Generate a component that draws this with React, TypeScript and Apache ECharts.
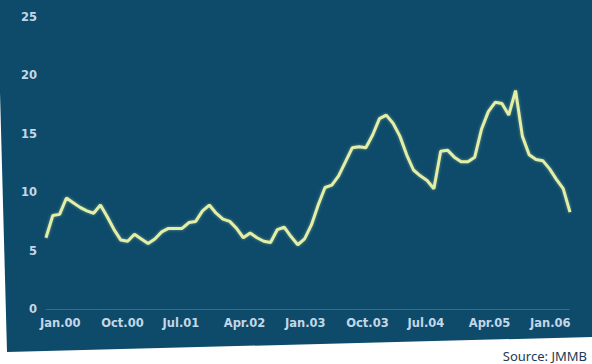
import React, { useEffect, useRef } from "react";
import * as echarts from "echarts";

const monthNames = ["Jan", "Feb", "Mar", "Apr", "May", "Jun", "Jul", "Aug", "Sep", "Oct", "Nov", "Dec"];
const startYear = 2000;
const monthCount = 78; // Jan.00 .. Jun.06

const categories: string[] = [];
for (let i = 0; i < monthCount; i++) {
  const y = startYear + Math.floor(i / 12);
  categories.push(`${monthNames[i % 12]}.${String(y % 100).padStart(2, "0")}`);
}

const tickLabels = ["Jan.00", "Oct.00", "Jul.01", "Apr.02", "Jan.03", "Oct.03", "Jul.04", "Apr.05", "Jan.06"];

const rateValues = [
  6.1, 8.0, 8.1, 9.5, 9.1, 8.7, 8.4, 8.2, 8.9, 7.9, 6.8, 5.9,
  5.8, 6.4, 6.0, 5.6, 6.0, 6.6, 6.9, 6.9, 6.9, 7.4, 7.5, 8.4,
  8.9, 8.2, 7.7, 7.5, 6.9, 6.1, 6.5, 6.1, 5.8, 5.7, 6.8, 7.0,
  6.2, 5.5, 6.0, 7.2, 8.9, 10.4, 10.6, 11.4, 12.6, 13.8, 13.9, 13.8,
  14.9, 16.3, 16.6, 15.9, 14.8, 13.2, 11.9, 11.4, 11.0, 10.3, 13.5, 13.6,
  13.0, 12.6, 12.6, 13.0, 15.4, 16.9, 17.7, 17.6, 16.6, 18.7, 14.8, 13.2,
  12.8, 12.7, 12.0, 11.1, 10.3, 8.3,
];

const yTicks = [0, 5, 10, 15, 20, 25];
const sourceText = "Source: JMMB";

export default function App() {
  const ref = useRef<HTMLDivElement>(null);
  useEffect(() => {
    if (!ref.current) return;
    const chart = echarts.init(ref.current, null, { renderer: "svg" });
    const labelColor = "#c3d7e6";
    chart.setOption({
      animation: false,
      backgroundColor: "#ffffff",
      graphic: [
        {
          type: "polygon",
          z: -10,
          silent: true,
          shape: {
            points: [
              [0, 0],
              [592, 0],
              [592, 337],
              [7, 352],
              [0, 92],
            ],
          },
          style: { fill: "#0e4b6b" },
        },
        {
          type: "text",
          right: 5,
          bottom: 2,
          style: {
            text: sourceText,
            fill: "#1c3a55",
            font: "13px 'Noto Sans', sans-serif",
          },
        },
      ],
      grid: { left: 46, right: 22, top: 17, bottom: 55, containLabel: false },
      xAxis: {
        type: "category",
        boundaryGap: false,
        data: categories,
        axisLine: { show: true, lineStyle: { color: "#46708e", type: "dotted", width: 1 } },
        axisTick: { show: false },
        splitLine: { show: false },
        axisLabel: {
          interval: (i: number, v: string) => tickLabels.includes(v),
          align: "left",
          margin: 8,
          padding: [0, 0, 0, -6],
          color: labelColor,
          fontSize: 11.5,
          fontWeight: "bold",
          fontFamily: "'DejaVu Sans', sans-serif",
        },
      },
      yAxis: {
        type: "value",
        min: yTicks[0],
        max: yTicks[yTicks.length - 1],
        interval: 5,
        axisLine: { show: false },
        axisTick: { show: false },
        splitLine: { show: false },
        axisLabel: {
          margin: 9,
          color: labelColor,
          fontSize: 11.5,
          fontWeight: "bold",
          fontFamily: "'DejaVu Sans', sans-serif",
        },
      },
      series: [
        {
          type: "line",
          data: rateValues,
          showSymbol: false,
          smooth: false,
          lineStyle: {
            color: "#e3eea6",
            width: 3,
            shadowColor: "rgba(220,240,160,0.45)",
            shadowBlur: 3,
          },
        },
      ],
    });
    return () => chart.dispose();
  }, []);
  return (
    <div
      ref={ref}
      style={{ position: "fixed", left: 0, top: 0, width: 592, height: 364 }}
    />
  );
}
